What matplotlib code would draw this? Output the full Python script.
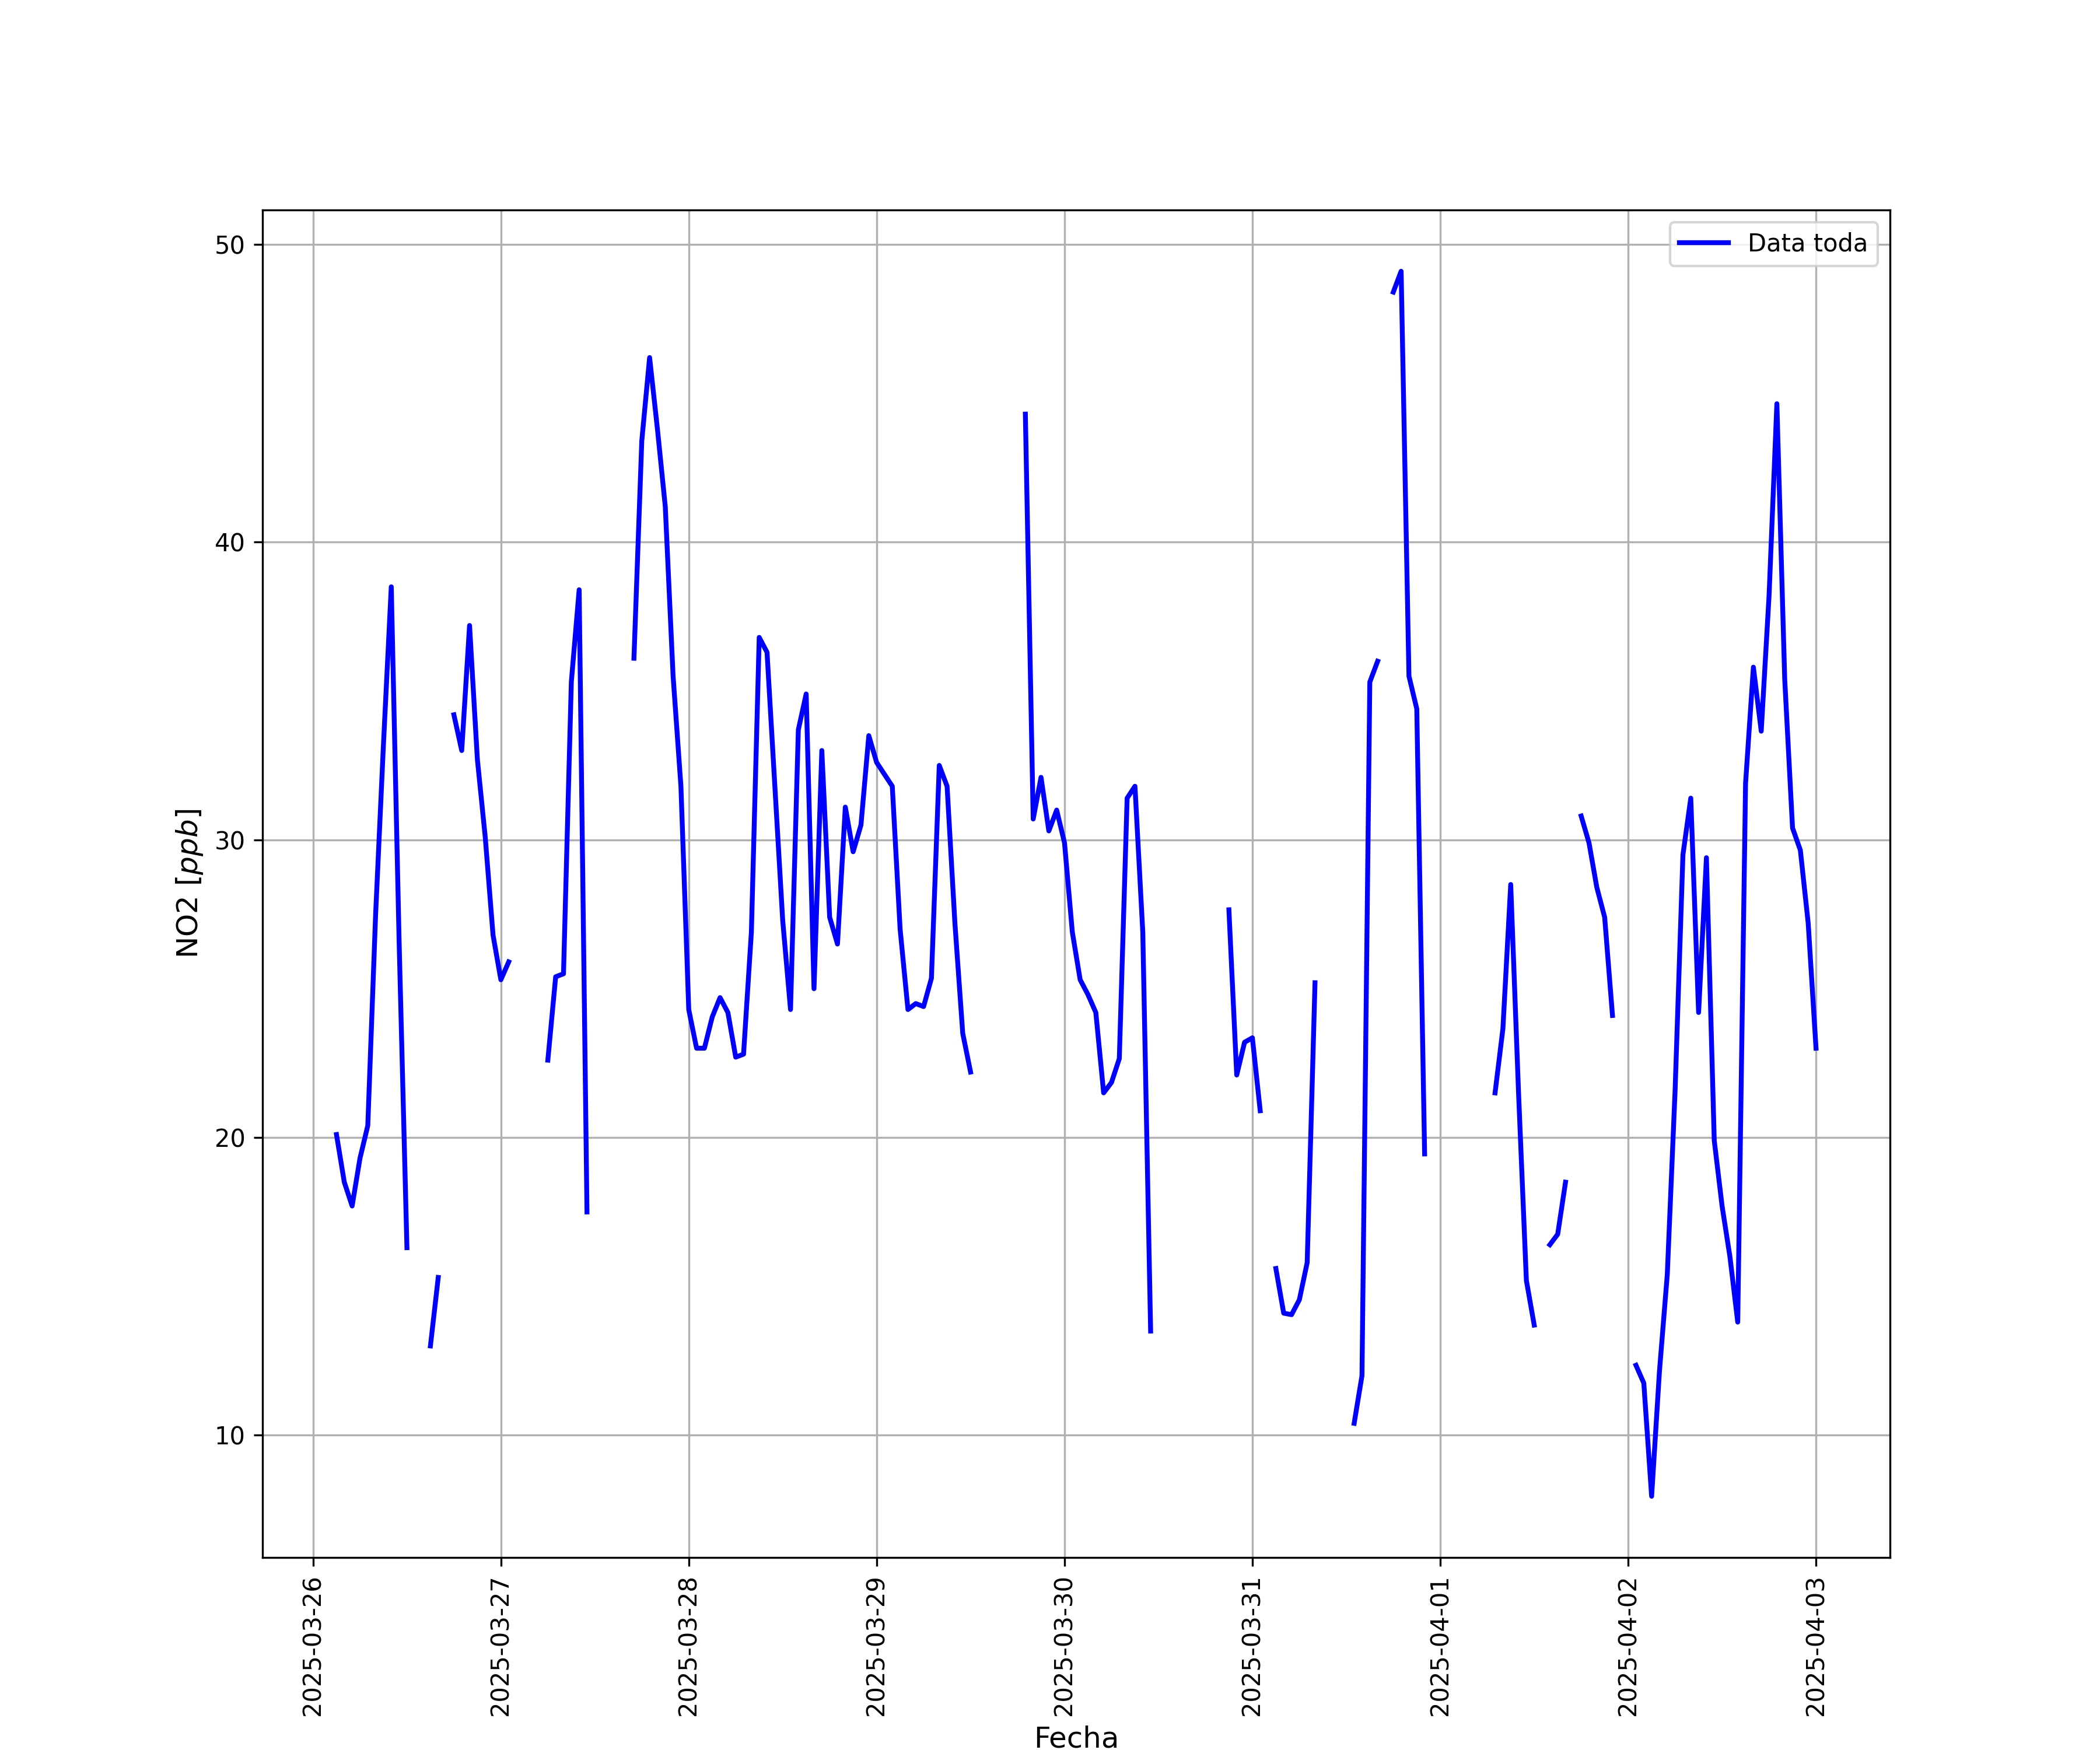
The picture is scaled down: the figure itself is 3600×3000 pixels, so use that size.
import matplotlib
matplotlib.use("Agg")
import matplotlib.pyplot as plt
import numpy as np
import pandas as pd

nan = np.nan

# hourly NO2 (ppb), one list per day, hours 00..23 (nan = no data)
no2_0326 = [nan, nan, nan, 20.1, 18.5, 17.7, 19.3, 20.4, 27.5, 33.2, 38.5, 26.6,
            16.3, nan, nan, 13.0, 15.3, nan, 34.2, 33.0, 37.2, 32.7, 30.1, 26.8]
no2_0327 = [25.3, 25.9, nan, nan, nan, nan, 22.6, 25.4, 25.5, 35.3, 38.4, 17.5,
            nan, nan, nan, nan, nan, 36.1, 43.4, 46.2, 43.8, 41.2, 35.5, 31.8]
no2_0328 = [24.3, 23.0, 23.0, 24.05, 24.7, 24.2, 22.7, 22.8, 26.9, 36.8, 36.3, 31.8,
            27.3, 24.3, 33.7, 34.9, 25.0, 33.0, 27.4, 26.5, 31.1, 29.6, 30.5, 33.5]
no2_0329 = [32.6, 32.2, 31.8, 27.0, 24.3, 24.5, 24.4, 25.35, 32.5, 31.8, 27.2, 23.5,
            22.2, nan, nan, nan, nan, nan, nan, 44.3, 30.7, 32.1, 30.3, 31.0]
no2_0330 = [29.9, 26.9, 25.3, 24.8, 24.2, 21.5, 21.85, 22.65, 31.4, 31.8, 26.9, 13.5,
            nan, nan, nan, nan, nan, nan, nan, nan, nan, 27.65, 22.1, 23.2]
no2_0331 = [23.35, 20.9, nan, 15.6, 14.1, 14.05, 14.55, 15.8, 25.2, nan, nan, nan,
            nan, 10.4, 12.0, 35.3, 36.0, nan, 48.4, 49.1, 35.5, 34.4, 19.45, nan]
no2_0401 = [nan, nan, nan, nan, nan, nan, nan, 21.5, 23.65, 28.5, 21.5, 15.2,
            13.7, nan, 16.4, 16.75, 18.5, nan, 30.8, 29.9, 28.4, 27.4, 24.1, nan]
no2_0402 = [nan, 12.35, 11.75, 7.95, 12.15, 15.4, 21.6, 29.5, 31.4, 24.2, 29.4, 19.9,
            17.7, 16.0, 13.8, 31.9, 35.8, 33.65, 38.2, 44.65, 35.4, 30.4, 29.65, 27.2]
no2_0403 = [23.0]

values = (no2_0326 + no2_0327 + no2_0328 + no2_0329 + no2_0330
          + no2_0331 + no2_0401 + no2_0402 + no2_0403)
fechas = pd.date_range("2025-03-26 00:00", periods=len(values), freq="h")

serie = pd.Series(values, index=fechas)
serie = serie.loc[serie.first_valid_index():serie.last_valid_index()]

fig = plt.figure(figsize=(12, 10))
plt.plot(serie.index, serie.values, color="b", lw=2, label="Data toda")
plt.xticks(rotation=90)
plt.grid()
plt.legend(loc="upper right")
plt.xlabel("Fecha", fontsize=12)
plt.ylabel("NO2 [$ppb$]", fontsize=12)

fig.savefig("out.png", dpi=300)
